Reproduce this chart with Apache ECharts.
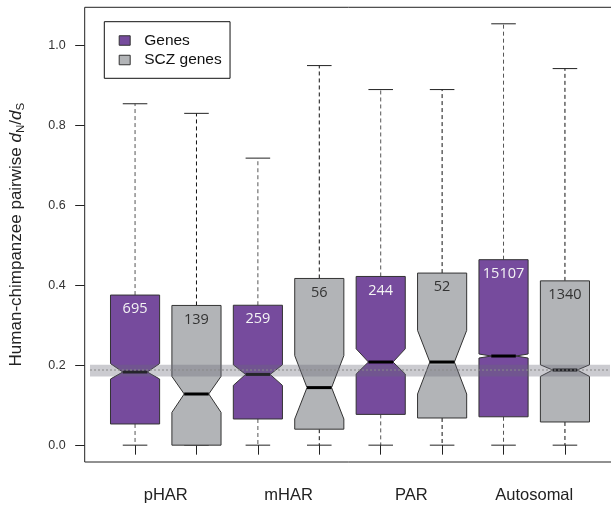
<!DOCTYPE html>
<html>
<head>
<meta charset="utf-8">
<script src="https://cdn.jsdelivr.net/npm/echarts@6/dist/echarts.min.js"></script>
<style>
html,body{margin:0;padding:0;background:#fff;}
#chart{width:611px;height:506px;}
</style>
</head>
<body>
<div id="chart"></div>
<script>
// ---- data ----
const categories = ['pHAR', 'mHAR', 'PAR', 'Autosomal'];
const seriesNames = ['Genes', 'SCZ genes'];
const yTicks = [0, 0.2, 0.4, 0.6, 0.8, 1.0];

const genesWhiskerLow  = [0, 0, 0, 0];
const genesQ1          = [0.053, 0.0655, 0.077, 0.071];
const genesNotchLow    = [0.1655, 0.1495, 0.178, 0.218];
const genesMedian      = [0.183, 0.177, 0.208, 0.223];
const genesNotchHigh   = [0.204, 0.201, 0.241, 0.228];
const genesQ3          = [0.3755, 0.350, 0.422, 0.464];
const genesWhiskerHigh = [0.854, 0.718, 0.8895, 1.054];
const genesN           = [695, 259, 244, 15107];

const sczWhiskerLow  = [0, 0, 0, 0];
const sczQ1          = [0, 0.040, 0.068, 0.058];
const sczNotchLow    = [0.082, 0.0655, 0.128, 0.172];
const sczMedian      = [0.128, 0.144, 0.208, 0.188];
const sczNotchHigh   = [0.172, 0.224, 0.287, 0.201];
const sczQ3          = [0.3495, 0.417, 0.4305, 0.411];
const sczWhiskerHigh = [0.830, 0.9495, 0.8895, 0.942];
const sczN           = [139, 56, 52, 1340];

// reference band = SCZ autosomal notch / median
const refBand = [[sczNotchLow[3], sczNotchHigh[3], sczMedian[3]]];

// ---- build ----
function build(offset, wl, q1, nl, med, nh, q3, wh, n) {
  return categories.map((c, i) => [2 * i + 1 + offset, wl[i], q1[i], nl[i], med[i], nh[i], q3[i], wh[i], n[i]]);
}
const genesData = build(0, genesWhiskerLow, genesQ1, genesNotchLow, genesMedian, genesNotchHigh, genesQ3, genesWhiskerHigh, genesN);
const sczData = build(1, sczWhiskerLow, sczQ1, sczNotchLow, sczMedian, sczNotchHigh, sczQ3, sczWhiskerHigh, sczN);

const PURPLE = '#764b9d';
const GRAY = '#b2b4b7';

function makeRender(fill, textColor, whiskerColor) {
  return function (params, api) {
    const x = api.value(0);
    const wl = api.value(1), q1 = api.value(2), nl = api.value(3), med = api.value(4),
          nh = api.value(5), q3 = api.value(6), wh = api.value(7), n = api.value(8);
    const w = 0.4, wn = 0.2, cap = 0.2;
    const P = (dx, v) => api.coord([x + dx, v]);
    const pts = [P(-w, q1), P(-w, nl), P(-wn, med), P(-w, nh), P(-w, q3),
                 P(w, q3), P(w, nh), P(wn, med), P(w, nl), P(w, q1)];
    const cx = P(0, 0)[0];
    const yq1 = P(0, q1)[1], yq3 = P(0, q3)[1], ywl = P(0, wl)[1], ywh = P(0, wh)[1], ymed = P(0, med)[1];
    const capL = P(-cap, 0)[0], capR = P(cap, 0)[0];
    const medL = P(-wn, 0)[0], medR = P(wn, 0)[0];
    const children = [
      {type: 'line', shape: {x1: cx, y1: yq3, x2: cx, y2: ywh}, style: {stroke: whiskerColor, lineWidth: 1, lineDash: [4, 3]}},
      {type: 'line', shape: {x1: cx, y1: yq1, x2: cx, y2: ywl}, style: {stroke: whiskerColor, lineWidth: 1, lineDash: [4, 3]}},
      {type: 'line', shape: {x1: capL, y1: ywh, x2: capR, y2: ywh}, style: {stroke: '#222', lineWidth: 1}},
      {type: 'line', shape: {x1: capL, y1: ywl, x2: capR, y2: ywl}, style: {stroke: '#222', lineWidth: 1}},
      {type: 'polygon', shape: {points: pts}, style: {fill: fill, stroke: '#333', lineWidth: 1}},
      {type: 'line', shape: {x1: medL, y1: ymed, x2: medR, y2: ymed}, style: {stroke: '#000', lineWidth: 3}},
      {type: 'text', style: {text: String(n), x: cx, y: yq3 + 14, fill: textColor,
        font: '14.5px "Open Sans"', align: 'center', verticalAlign: 'middle'}}
    ];
    return {type: 'group', children: children};
  };
}

const chart = echarts.init(document.getElementById('chart'), null, {renderer: 'canvas'});
const FONT = '"Liberation Sans", Arial, sans-serif';

chart.setOption({
  animation: false,
  backgroundColor: '#fff',
  grid: {left: 84.7, top: 7.3, width: 530.6, height: 454.7, show: true,
         borderColor: '#222', borderWidth: 1, backgroundColor: 'transparent',
         containLabel: false, outerBoundsMode: 'none'},
  legend: {
    orient: 'vertical', left: 104.3, top: 21.7,
    padding: [10.8, 8.3, 10.3, 14.4],
    borderColor: '#111', borderWidth: 1, backgroundColor: '#fff',
    itemGap: 3.5, itemWidth: 11, itemHeight: 9.5, icon: 'rect',
    textStyle: {fontFamily: FONT, fontSize: 15.5, color: '#111', lineHeight: 16, padding: [0, 0, 0, 9]},
    data: [
      {name: seriesNames[0], itemStyle: {color: PURPLE, borderColor: '#333', borderWidth: 1}},
      {name: seriesNames[1], itemStyle: {color: GRAY, borderColor: '#333', borderWidth: 1}}
    ]
  },
  xAxis: {
    type: 'value', min: 0.18, max: 8.82,
    splitLine: {show: false},
    axisLine: {show: false},
    axisTick: {show: true, length: 9.5, lineStyle: {color: '#222'}, customValues: [1, 2, 3, 4, 5, 6, 7, 8]},
    axisLabel: {show: true, customValues: [1.5, 3.5, 5.5, 7.5], margin: 25,
      fontFamily: FONT, fontSize: 16.5, color: '#222',
      formatter: v => categories[Math.round((v - 1.5) / 2)]}
  },
  yAxis: {
    type: 'value', min: -0.0421, max: 1.0953,
    splitLine: {show: false},
    axisLine: {show: false},
    axisTick: {show: true, length: 9.5, lineStyle: {color: '#222'}, customValues: yTicks},
    axisLabel: {show: true, customValues: yTicks, margin: 19, fontFamily: FONT, fontSize: 12.5, color: '#333',
      formatter: v => v.toFixed(1)},
    name: '{a|Human-chimpanzee pairwise }{i|d}{s|N}{a|/}{i|d}{s|S}',
    nameLocation: 'middle', nameRotate: 90, nameGap: 57.5,
    nameTextStyle: {
      color: '#222',
      rich: {
        a: {fontFamily: FONT, fontSize: 17, color: '#222', lineHeight: 22},
        i: {fontFamily: FONT, fontSize: 17, fontStyle: 'italic', color: '#222', lineHeight: 22},
        s: {fontFamily: FONT, fontSize: 11.5, color: '#222', lineHeight: 11, verticalAlign: 'bottom'}
      }
    }
  },
  series: [
    {name: seriesNames[0], type: 'custom', itemStyle: {color: PURPLE}, data: genesData,
     encode: {x: 0, y: [1, 7]}, renderItem: makeRender(PURPLE, '#f4f4f4', '#555'), z: 2},
    {name: seriesNames[1], type: 'custom', itemStyle: {color: GRAY}, data: sczData,
     encode: {x: 0, y: [1, 7]}, renderItem: makeRender(GRAY, '#333', '#111'), z: 2},
    {name: 'reference', type: 'custom', data: refBand, silent: true, z: 3,
     renderItem: function (params, api) {
       const cs = params.coordSys;
       const lo = api.coord([1, api.value(0)])[1];
       const hi = api.coord([1, api.value(1)])[1];
       const mid = api.coord([1, api.value(2)])[1];
       const x0 = cs.x + 5.3, x1 = cs.x + cs.width - 5.3;
       return {type: 'group', children: [
         {type: 'rect', shape: {x: x0, y: hi, width: x1 - x0, height: lo - hi},
          style: {fill: 'rgba(105,105,120,0.35)'}},
         {type: 'line', shape: {x1: x0, y1: mid, x2: x1, y2: mid},
          style: {stroke: '#8a8a8a', lineWidth: 1, lineDash: [2, 2]}}
       ]};
     }}
  ]
});
</script>
</body>
</html>
